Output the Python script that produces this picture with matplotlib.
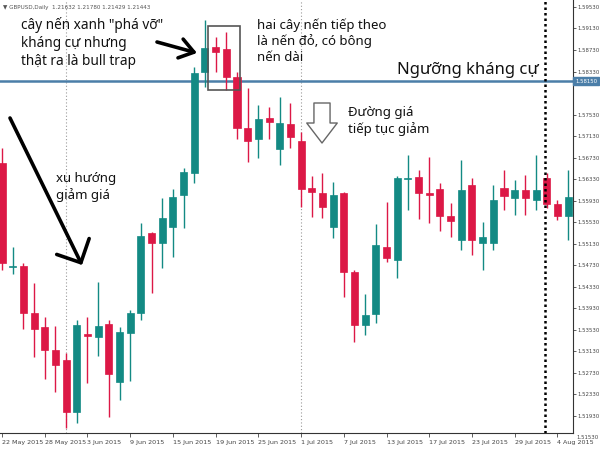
import matplotlib
matplotlib.use("Agg")
import matplotlib.pyplot as plt
from matplotlib.patches import Rectangle

# ---- data (GBPUSD daily, 22 May 2015 .. 5 Aug 2015) ----
opens = [1.5663, 1.5469, 1.5471, 1.5384, 1.5358, 1.5315, 1.5296, 1.5200, 1.5345, 1.5339,
         1.5363, 1.5255, 1.5347, 1.5384, 1.5533, 1.5514, 1.5544, 1.5603, 1.5644, 1.5832,
         1.5879, 1.5875, 1.5823, 1.5728, 1.5707, 1.5747, 1.5689, 1.5735, 1.5704, 1.5616,
         1.5607, 1.5544, 1.5607, 1.5460, 1.5362, 1.5382, 1.5507, 1.5482, 1.5633, 1.5637,
         1.5607, 1.5614, 1.5564, 1.5520, 1.5622, 1.5514, 1.5514, 1.5616, 1.5598, 1.5613,
         1.5594, 1.5635, 1.5587, 1.5564]
highs = [1.5691, 1.5507, 1.5477, 1.5440, 1.5376, 1.5360, 1.5309, 1.5371, 1.5376, 1.5441,
         1.5371, 1.5358, 1.5389, 1.5551, 1.5534, 1.5598, 1.5614, 1.5654, 1.5841, 1.5929,
         1.5897, 1.5906, 1.5832, 1.5802, 1.5771, 1.5767, 1.5786, 1.5774, 1.5720, 1.5639,
         1.5644, 1.5627, 1.5609, 1.5464, 1.5419, 1.5549, 1.5590, 1.5639, 1.5678, 1.5650,
         1.5674, 1.5626, 1.5588, 1.5668, 1.5635, 1.5553, 1.5622, 1.5650, 1.5631, 1.5641,
         1.5678, 1.5644, 1.5594, 1.5650]
lows = [1.5464, 1.5456, 1.5354, 1.5302, 1.5261, 1.5237, 1.5170, 1.5179, 1.5254, 1.5304,
        1.5190, 1.5222, 1.5257, 1.5371, 1.5421, 1.5468, 1.5488, 1.5542, 1.5626, 1.5804,
        1.5832, 1.5799, 1.5707, 1.5665, 1.5672, 1.5707, 1.5659, 1.5691, 1.5581, 1.5562,
        1.5561, 1.5523, 1.5414, 1.5330, 1.5343, 1.5365, 1.5479, 1.5449, 1.5575, 1.5559,
        1.5551, 1.5536, 1.5525, 1.5501, 1.5492, 1.5464, 1.5501, 1.5575, 1.5566, 1.5566,
        1.5575, 1.5579, 1.5557, 1.5520]
closes = [1.5477, 1.5471, 1.5384, 1.5354, 1.5315, 1.5287, 1.5200, 1.5362, 1.5341, 1.5360,
          1.5270, 1.5348, 1.5384, 1.5527, 1.5514, 1.5561, 1.5600, 1.5646, 1.5830, 1.5877,
          1.5869, 1.5823, 1.5728, 1.5704, 1.5745, 1.5739, 1.5737, 1.5711, 1.5614, 1.5609,
          1.5581, 1.5603, 1.5460, 1.5362, 1.5380, 1.5510, 1.5486, 1.5635, 1.5635, 1.5607,
          1.5603, 1.5564, 1.5555, 1.5613, 1.5520, 1.5525, 1.5594, 1.5601, 1.5613, 1.5598,
          1.5613, 1.5587, 1.5564, 1.5600]

date_labels = ["22 May 2015", "28 May 2015", "3 Jun 2015", "9 Jun 2015", "15 Jun 2015",
               "19 Jun 2015", "25 Jun 2015", "1 Jul 2015", "7 Jul 2015", "13 Jul 2015",
               "17 Jul 2015", "23 Jul 2015", "29 Jul 2015", "4 Aug 2015"]
date_label_bars = [0, 4, 8, 12, 16, 20, 24, 28, 32, 36, 40, 44, 48, 52]
month_start_bars = [6, 28]
price_ticks = [1.51930, 1.52330, 1.52730, 1.53130, 1.53530, 1.53930, 1.54330, 1.54730,
               1.55130, 1.55530, 1.55930, 1.56330, 1.56730, 1.57130, 1.57530, 1.58330,
               1.58730, 1.59130, 1.59530]
bottom_price_label = 1.51530
resistance = 1.5815
header = "\u25BC GBPUSD,Daily  1.21632 1.21780 1.21429 1.21443"

UP = "#138a84"
DOWN = "#dc1846"
LINE = "#4b7ea8"

plt.rcParams["font.family"] = ["Noto Sans", "DejaVu Sans"]

fig = plt.figure(figsize=(6, 4.5), dpi=100)
ax = fig.add_axes([0, 1 - 433 / 450, 573 / 600, 433 / 450])
ax.set_xlim(-0.19, 53.46)
ax.set_ylim(1.51606, 1.5966)

n = len(opens)
xs = list(range(n))
for i in xs:
    o, h, l, c = opens[i], highs[i], lows[i], closes[i]
    col = UP if c >= o else DOWN
    ax.vlines(i, l, h, color=col, lw=1.0, zorder=3)
    bot = min(o, c)
    hgt = max(abs(c - o), 0.00012)
    ax.bar(i, hgt, bottom=bot, width=0.66, color=col, edgecolor=col, lw=0.5, zorder=4)

# period separators and shift marker
for b in month_start_bars:
    ax.axvline(b, color="#9a9a9a", ls=(0, (1, 2)), lw=0.8, zorder=1)
ax.axvline(50.85, color="black", ls=(0, (1, 1.2)), lw=1.8, zorder=5)

# resistance line
ax.axhline(resistance, color=LINE, lw=1.8, zorder=2)
ax.text(1.0 + 2 / 573, resistance, "1.58150", transform=ax.get_yaxis_transform(),
        fontsize=3.9, color="white", va="center", ha="left", clip_on=False,
        family="DejaVu Sans",
        bbox=dict(boxstyle="square,pad=0.3", fc=LINE, ec=LINE))

# axes styling
for s in ["top", "left"]:
    ax.spines[s].set_visible(False)
ax.spines["right"].set_color("#333333")
ax.spines["bottom"].set_color("#333333")
ax.spines["right"].set_linewidth(0.8)
ax.spines["bottom"].set_linewidth(0.8)
ax.yaxis.tick_right()
ax.set_yticks(price_ticks)
ax.set_yticklabels([f"{p:.5f}" for p in price_ticks], family="DejaVu Sans")
ax.set_xticks(date_label_bars)
ax.set_xticklabels(date_labels, family="DejaVu Sans", ha="left")
ax.tick_params(axis="y", direction="out", length=2, width=0.6, labelsize=3.9,
               colors="#444444", pad=1)
ax.tick_params(axis="x", direction="out", length=3, width=0.6, labelsize=4.6,
               colors="#444444", pad=2)
ax.text(1.0 + 3 / 573, bottom_price_label, f"{bottom_price_label:.5f}",
        transform=ax.get_yaxis_transform(), fontsize=3.9, color="#444444",
        va="center", ha="left", clip_on=False, family="DejaVu Sans")

def P(px, py):
    return (px / 573, 1 - py / 433)

ax.text(*P(3, 7), header, transform=ax.transAxes, fontsize=4.1, color="#555555",
        va="center", ha="left", family="DejaVu Sans")

# annotations
ax.text(*P(21, 43), "cây nến xanh \"phá vỡ\"\nkháng cự nhưng\nthật ra là bull trap",
        transform=ax.transAxes, fontsize=9.8, va="center", ha="left",
        color="#111111", linespacing=1.25)
ax.annotate("", xy=P(197, 53), xytext=P(157, 42), xycoords="axes fraction",
            textcoords="axes fraction",
            arrowprops=dict(arrowstyle="->,head_length=0.5,head_width=0.35",
                            lw=2.6, color="black", mutation_scale=20,
                            shrinkA=0, shrinkB=0))
ax.add_patch(Rectangle(P(208, 90), 32 / 573, 64 / 433, transform=ax.transAxes,
                       fill=False, ec="#555555", lw=1.2, zorder=6))
ax.text(*P(257, 41), "hai cây nến tiếp theo\nlà nến đỏ, có bông\nnến dài",
        transform=ax.transAxes, fontsize=9.5, va="center", ha="left",
        color="#111111", linespacing=1.25)
ax.text(*P(539, 78), "Ngưỡng kháng cự", transform=ax.transAxes, fontsize=12,
        va="bottom", ha="right", color="#111111")
ax.annotate("", xy=P(322, 143), xytext=P(322, 103), xycoords="axes fraction",
            textcoords="axes fraction",
            arrowprops=dict(arrowstyle="simple,head_length=0.72,head_width=1.1,tail_width=0.58",
                            fc="white", ec="#666666", lw=1.0, mutation_scale=20,
                            shrinkA=0, shrinkB=0))
ax.text(*P(348, 121), "Đường giá\ntiếp tục giảm", transform=ax.transAxes,
        fontsize=9.5, va="center", ha="left", color="#111111", linespacing=1.25)
ax.annotate("", xy=P(82, 265), xytext=P(10, 118), xycoords="axes fraction",
            textcoords="axes fraction",
            arrowprops=dict(arrowstyle="->,head_length=0.65,head_width=0.65",
                            lw=2.6, color="black", mutation_scale=20,
                            shrinkA=0, shrinkB=0))
ax.text(*P(56, 187), "xu hướng\ngiảm giá", transform=ax.transAxes,
        fontsize=9.5, va="center", ha="left", color="#111111", linespacing=1.25)

fig.savefig("out.png", dpi=100, facecolor="white")
